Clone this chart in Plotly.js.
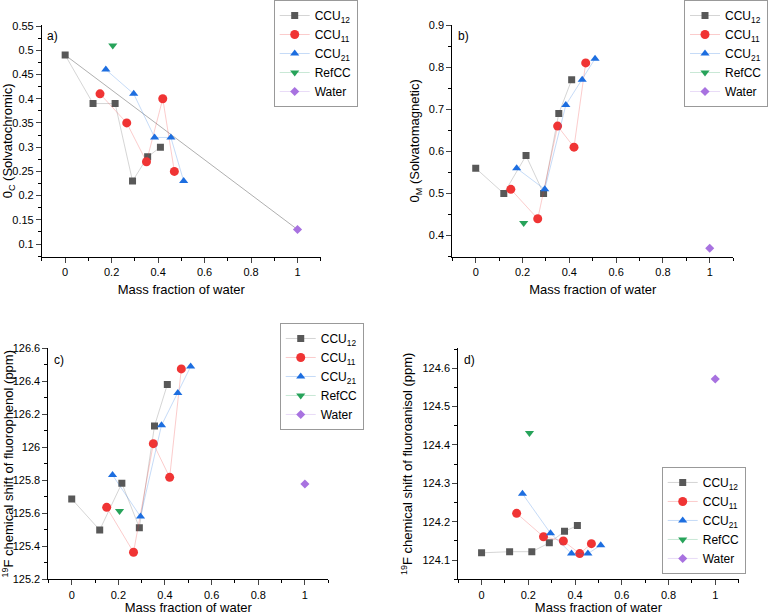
<!DOCTYPE html>
<html>
<head>
<meta charset="utf-8">
<script src="https://cdn.plot.ly/plotly-3.0.1.min.js"></script>
<style>
  body { margin: 0; background: #fff; }
  #chart { width: 768px; height: 615px; }
</style>
</head>
<body>
<div id="chart"></div>
<script>
// mass fraction of water for each series
const xCCU12 = [0, 0.12, 0.215, 0.29, 0.355, 0.41];
const xCCU11 = [0.15, 0.265, 0.35, 0.42, 0.47];
const xCCU21 = [0.175, 0.295, 0.385, 0.455, 0.51];
const xRefCC = [0.205];
const xWater = [1];

// a) solvatochromic
const aCCU12 = [0.49, 0.39, 0.39, 0.23, 0.28, 0.30];
const aCCU11 = [0.41, 0.35, 0.27, 0.40, 0.25];
const aCCU21 = [0.46, 0.41, 0.32, 0.32, 0.23];
const aRefCC = [0.51];
const aWater = [0.13];
const aRefLineX = [0, 1];
const aRefLineY = [0.49, 0.13];

// b) solvatomagnetic
const bCCU12 = [0.56, 0.50, 0.59, 0.50, 0.69, 0.77];
const bCCU11 = [0.51, 0.44, 0.66, 0.61, 0.81];
const bCCU21 = [0.56, 0.51, 0.71, 0.77, 0.82];
const bRefCC = [0.43];
const bWater = [0.37];

// c) 19F shift of fluorophenol
const cCCU12 = [125.687, 125.499, 125.782, 125.513, 126.129, 126.38];
const cCCU11 = [125.636, 125.364, 126.022, 125.818, 126.475];
const cCCU21 = [125.832, 125.58, 126.133, 126.329, 126.489];
const cRefCC = [125.614];
const cWater = [125.778];

// d) 19F shift of fluoroanisol
const dCCU12 = [124.119, 124.122, 124.122, 124.145, 124.175, 124.19];
const dCCU11 = [124.222, 124.161, 124.15, 124.117, 124.143];
const dCCU21 = [124.273, 124.17, 124.117, 124.117, 124.139];
const dRefCC = [124.431];
const dWater = [124.572];

const names = ["CCU<sub>12</sub>", "CCU<sub>11</sub>", "CCU<sub>21</sub>", "RefCC", "Water"];

const styles = [
  {marker: {symbol: "square", size: 7, color: "#585858"}, line: {color: "rgba(88,88,88,0.25)", width: 1}},
  {marker: {symbol: "circle", size: 9, color: "#f03434"}, line: {color: "rgba(240,52,52,0.25)", width: 1}},
  {marker: {symbol: "triangle-up", size: 8, color: "#1d6ee0"}, line: {color: "rgba(29,110,224,0.25)", width: 1}},
  {marker: {symbol: "triangle-down", size: 8, color: "#27a35a"}, line: {color: "rgba(39,163,90,0.25)", width: 1}},
  {marker: {symbol: "diamond", size: 7, color: "#a872e0"}, line: {color: "rgba(168,114,224,0.25)", width: 1}}
];

const xs = [xCCU12, xCCU11, xCCU21, xRefCC, xWater];
const panels = [
  {ys: [aCCU12, aCCU11, aCCU21, aRefCC, aWater], xa: "x", ya: "y", lg: "legend"},
  {ys: [bCCU12, bCCU11, bCCU21, bRefCC, bWater], xa: "x2", ya: "y2", lg: "legend2"},
  {ys: [cCCU12, cCCU11, cCCU21, cRefCC, cWater], xa: "x3", ya: "y3", lg: "legend3"},
  {ys: [dCCU12, dCCU11, dCCU21, dRefCC, dWater], xa: "x4", ya: "y4", lg: "legend4"}
];

let traces = [];
// straight grey line in panel a
traces.push({
  x: aRefLineX, y: aRefLineY, xaxis: "x", yaxis: "y",
  type: "scatter", mode: "lines", showlegend: false, hoverinfo: "skip",
  line: {color: "rgba(110,110,110,0.55)", width: 1}
});
panels.forEach(function(p){
  for (let i = 0; i < 5; i++){
    traces.push({
      x: xs[i], y: p.ys[i], xaxis: p.xa, yaxis: p.ya, legend: p.lg,
      type: "scatter", mode: "lines+markers", name: names[i],
      marker: styles[i].marker, line: styles[i].line
    });
  }
});

const tickFont = {family: "Liberation Sans, Arial, sans-serif", size: 11, color: "#000"};
const titleFont = {family: "Liberation Sans, Arial, sans-serif", size: 13, color: "#000"};

function xAxis(domain, anchor){
  return {
    domain: domain, anchor: anchor, range: [-0.1, 1.1], dtick: 0.2, tick0: 0,
    showline: true, linecolor: "#000", linewidth: 1, ticks: "outside", ticklen: 5,
    minor: {ticks: "outside", ticklen: 3, dtick: 0.1, tick0: 0, tickcolor: "#000"},
    showgrid: false, zeroline: false, tickfont: tickFont,
    title: {text: "Mass fraction of water", font: titleFont, standoff: 7}
  };
}
function yAxis(domain, anchor, range, dtick, minorDtick, title){
  return {
    domain: domain, anchor: anchor, range: range, dtick: dtick, tick0: 0,
    showline: true, linecolor: "#000", linewidth: 1, ticks: "outside", ticklen: 5,
    minor: {ticks: "outside", ticklen: 3, dtick: minorDtick, tick0: 0, tickcolor: "#000"},
    showgrid: false, zeroline: false, tickfont: tickFont,
    title: {text: title, font: titleFont, standoff: 6}
  };
}
function legendBox(x, y, anchor){
  return {
    x: x, y: y, xanchor: "left", yanchor: anchor, xref: "paper", yref: "paper",
    bgcolor: "#fff", bordercolor: "#999", borderwidth: 1,
    font: {family: "Liberation Sans, Arial, sans-serif", size: 12, color: "#000"},
    itemwidth: 30, tracegroupgap: 0
  };
}
function label(txt, xr, yr){
  return {text: txt, xref: xr + " domain", yref: yr + " domain", x: 0.012, y: 0.99,
    xanchor: "left", yanchor: "top", showarrow: false,
    font: {family: "Liberation Sans, Arial, sans-serif", size: 12, color: "#000"}};
}

const topY = [0.5826, 0.9593];
const botY = [0.0580, 0.4337];

const layout = {
  width: 768, height: 615,
  margin: {l: 0, r: 0, t: 0, b: 0},
  paper_bgcolor: "#fff", plot_bgcolor: "#fff",
  xaxis: xAxis([0.0556, 0.4254], "y"),
  yaxis: yAxis(topY, "x", [0.074, 0.552], 0.05, 0.025, "0<sub>C</sub> (Solvatochromic)"),
  xaxis2: xAxis([0.5999, 0.9723], "y2"),
  yaxis2: yAxis(topY, "x2", [0.35, 0.9], 0.1, 0.05, "0<sub>M</sub> (Solvatomagnetic)"),
  xaxis3: xAxis([0.0642, 0.4353], "y3"),
  yaxis3: yAxis(botY, "x3", [125.2, 126.6], 0.2, 0.1, "<sup>19</sup>F chemical shift of fluorophenol (ppm)"),
  xaxis4: xAxis([0.6077, 0.9796], "y4"),
  yaxis4: yAxis(botY, "x4", [124.05, 124.652], 0.1, 0.05, "<sup>19</sup>F chemical shift of fluoroanisol (ppm)"),
  legend: legendBox(0.363, 1.0, "top"),
  legend2: legendBox(0.9076, 1.0, "top"),
  legend3: legendBox(0.371, 0.4748, "top"),
  legend4: legendBox(0.8776, 0.0667, "bottom"),
  annotations: [label("a)", "x", "y"), label("b)", "x2", "y2"), label("c)", "x3", "y3"), label("d)", "x4", "y4")]
};

Plotly.newPlot("chart", traces, layout, {displayModeBar: false});
</script>
</body>
</html>
